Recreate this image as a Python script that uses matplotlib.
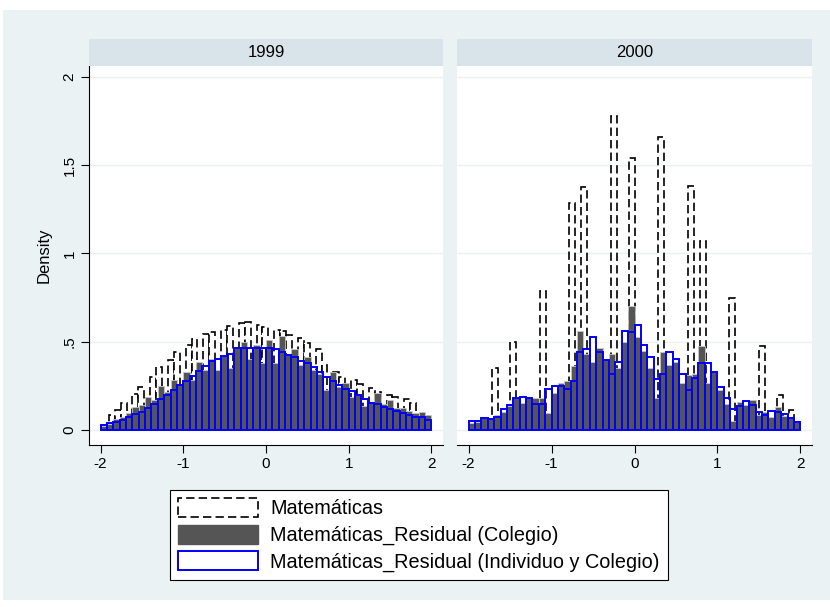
import numpy as np
import matplotlib.pyplot as plt
from matplotlib.patches import Patch, Rectangle

plt.rcParams['font.family'] = ['Liberation Sans', 'DejaVu Sans']

years = ['1999', '2000']
legend_labels = ['Matemáticas',
                 'Matemáticas_Residual (Colegio)',
                 'Matemáticas_Residual (Individuo y Colegio)']

# Matemáticas (raw score, discrete) - 56 bins of width 4/56
mat_width = 4 / 56
mat_start_1999 = -1.90
mat_1999 = [0.085, 0.113, 0.154, 0, 0.203, 0.245, 0, 0.301, 0.358, 0,
            0.399, 0.442, 0, 0.48, 0.518, 0, 0.546, 0.555, 0, 0.565,
            0.589, 0, 0.606, 0.612, 0, 0.593, 0.584, 0, 0.569, 0.56,
            0.54, 0, 0.522, 0.493, 0, 0.456, 0.37, 0, 0.329, 0.301,
            0, 0.282, 0.258, 0, 0.239, 0.216, 0, 0.2, 0.188, 0,
            0.175, 0.154, 0, 0.085]
mat_start_2000 = -2.0
mat_2000 = [0, 0, 0, 0, 0.35, 0, 0, 0.50, 0, 0,
            0, 0, 0.785, 0, 0, 0, 0, 1.284, 0, 1.375,
            0, 0, 0, 0, 1.778, 0, 0, 1.54, 0, 0,
            0, 0, 1.66, 0, 0, 0, 0, 1.384, 0, 1.068,
            0, 0, 0, 0, 0.75, 0, 0, 0, 0, 0.478,
            0, 0, 0.198, 0, 0.113, 0]

# residual (Colegio) - 52 bins over [-2, 2]
res_col_1999 = [0.02, 0.035, 0.06, 0.075, 0.094, 0.128, 0.141, 0.188, 0.17, 0.249,
                0.216, 0.282, 0.254, 0.329, 0.282, 0.386, 0.339, 0.405, 0.339, 0.424,
                0.349, 0.462, 0.499, 0.405, 0.48, 0.377, 0.508, 0.377, 0.531, 0.433,
                0.456, 0.367, 0.414, 0.339, 0.32, 0.226, 0.329, 0.245, 0.264, 0.188,
                0.198, 0.135, 0.16, 0.207, 0.15, 0.17, 0.122, 0.122, 0.109, 0.094,
                0.1, 0.085]
res_col_2000 = [0.04, 0.045, 0.066, 0.066, 0.085, 0.104, 0.135, 0.188, 0.154, 0.188,
                0.18, 0.183, 0.094, 0.207, 0.264, 0.279, 0.362, 0.56, 0.43, 0.386,
                0.462, 0.396, 0.43, 0.349, 0.496, 0.70, 0.524, 0.448, 0.354, 0.179,
                0.442, 0.367, 0.386, 0.264, 0.31, 0.32, 0.476, 0.267, 0.33, 0.226,
                0.15, 0.053, 0.16, 0.141, 0.17, 0.085, 0.104, 0.075, 0.132, 0.08,
                0.066, 0.047]

# residual (Individuo y Colegio) - 52 bins over [-2, 2]
res_ind_1999 = [0.028, 0.038, 0.045, 0.056, 0.072, 0.089, 0.10, 0.122, 0.145, 0.173,
                0.20, 0.226, 0.256, 0.277, 0.307, 0.337, 0.363, 0.391, 0.401, 0.42,
                0.433, 0.463, 0.463, 0.463, 0.463, 0.465, 0.465, 0.46, 0.442, 0.427,
                0.414, 0.39, 0.377, 0.358, 0.326, 0.299, 0.279, 0.254, 0.235, 0.222,
                0.198, 0.175, 0.154, 0.145, 0.128, 0.117, 0.107, 0.098, 0.083, 0.075,
                0.072, 0.056]
res_ind_2000 = [0.05, 0.05, 0.066, 0.062, 0.072, 0.117, 0.14, 0.18, 0.185, 0.183,
                0.15, 0.147, 0.235, 0.25, 0.247, 0.233, 0.277, 0.44, 0.458, 0.527,
                0.442, 0.399, 0.32, 0.386, 0.561, 0.556, 0.593, 0.48, 0.414, 0.29,
                0.315, 0.44, 0.405, 0.32, 0.226, 0.292, 0.377, 0.38, 0.33, 0.245,
                0.179, 0.117, 0.137, 0.164, 0.14, 0.104, 0.085, 0.107, 0.1, 0.09,
                0.066, 0.047]

mat = {'1999': (mat_start_1999, mat_1999), '2000': (mat_start_2000, mat_2000)}
res_col = {'1999': res_col_1999, '2000': res_col_2000}
res_ind = {'1999': res_ind_1999, '2000': res_ind_2000}

bg = '#eaf2f3'
strip_col = '#d8e4ea'
gray = '#555555'
blue = '#0000ff'
dash = (0, (5, 2.5))

W, H = 830, 607
fig = plt.figure(figsize=(W / 100, H / 100), dpi=100, facecolor='white')
fig.patches.append(Rectangle((3 / W, 7 / H), 827 / W, 590 / H, transform=fig.transFigure,
                             facecolor=bg, edgecolor='none', zorder=-10))

panel_x = [(89, 443), (457, 812)]
ytop, ybot = 66, 445


def fx(px):
    return px / W


def fy(py):
    return 1 - py / H


for i, yr in enumerate(years):
    x0, x1 = panel_x[i]
    ax = fig.add_axes([fx(x0), fy(ybot), fx(x1 - x0), (ybot - ytop) / H])
    ax.set_facecolor('white')

    # Matemáticas, dashed hollow bars
    start, vals = mat[yr]
    vals = np.array(vals)
    left = start + np.arange(len(vals)) * mat_width
    keep = vals > 0
    ax.bar(left[keep], vals[keep], width=mat_width, align='edge', facecolor='white',
           edgecolor='black', linewidth=1.2, linestyle=dash, zorder=2)

    # residual (Colegio), solid gray bars
    v = np.array(res_col[yr])
    edges = np.linspace(-2, 2, len(v) + 1)
    ax.bar(edges[:-1], v, width=np.diff(edges), align='edge', facecolor=gray,
           edgecolor='#c8c8c8', linewidth=0.6, zorder=3)

    # residual (Individuo y Colegio), blue hollow bars
    v = np.array(res_ind[yr])
    edges = np.linspace(-2, 2, len(v) + 1)
    ax.bar(edges[:-1], v, width=np.diff(edges), align='edge', fill=False,
           edgecolor=blue, linewidth=1.4, zorder=4)

    ax.set_xlim(-2.14, 2.14)
    ax.set_ylim(-0.085, 2.062)
    ax.set_xticks([-2, -1, 0, 1, 2])
    ax.set_xticklabels(['-2', '-1', '0', '1', '2'])
    ax.set_yticks([0, 0.5, 1, 1.5, 2])
    ax.set_yticklabels(['0', '.5', '1', '1.5', '2'], rotation=90, va='center')
    ax.grid(axis='y', color=bg, linewidth=1.0, zorder=1)
    ax.set_axisbelow(True)
    for s in ['top', 'right']:
        ax.spines[s].set_visible(False)
    ax.spines['bottom'].set_color('#000000')
    ax.spines['bottom'].set_linewidth(0.8)
    ax.tick_params(axis='x', length=6, width=0.8, labelsize=11, pad=3)
    if i == 0:
        ax.spines['left'].set_linewidth(0.8)
        ax.tick_params(axis='y', length=6, width=0.8, labelsize=11, pad=3)
        ax.set_ylabel('Density', fontsize=12, labelpad=8)
    else:
        ax.spines['left'].set_visible(False)
        ax.tick_params(axis='y', left=False, labelleft=False)

    # strip with the year
    sax = fig.add_axes([fx(x0), fy(ytop), fx(x1 - x0), 27 / H])
    sax.set_facecolor(strip_col)
    sax.set_xticks([])
    sax.set_yticks([])
    for s in sax.spines.values():
        s.set_visible(False)
    sax.text(0.5, 0.5, yr, ha='center', va='center', fontsize=12, transform=sax.transAxes)

handles = [Patch(facecolor='white', edgecolor='black', linewidth=1.2, linestyle=dash),
           Patch(facecolor=gray, edgecolor=gray),
           Patch(facecolor='white', edgecolor=blue, linewidth=1.4)]
leg = fig.legend(handles, legend_labels, loc='center', bbox_to_anchor=(fx(419), fy(535)),
                 fontsize=14.3, handlelength=4.0, handleheight=1.1, handletextpad=0.65,
                 labelspacing=0.31, borderpad=0.4, fancybox=False, frameon=True,
                 edgecolor='black', facecolor='white', framealpha=1)
leg.get_frame().set_linewidth(0.8)

fig.savefig('out.png', dpi=100, facecolor='white')
